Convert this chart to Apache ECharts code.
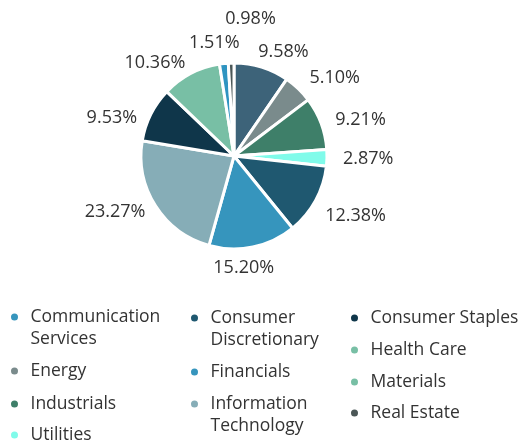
<!DOCTYPE html>
<html>
<head>
<meta charset="utf-8">
<script src="https://cdn.jsdelivr.net/npm/echarts@6/dist/echarts.min.js"></script>
<style>
  html, body { margin: 0; padding: 0; background: #fff; }
  #chart { width: 529px; height: 446px; }
</style>
</head>
<body>
<div id="chart"></div>
<script>
var sectors = ['Communication Services', 'Energy', 'Industrials', 'Utilities',
  'Consumer Discretionary', 'Financials', 'Information Technology',
  'Consumer Staples', 'Health Care', 'Materials', 'Real Estate'];
var weights = [9.58, 5.10, 9.21, 2.87, 12.38, 15.20, 23.27, 9.53, 10.36, 1.51, 0.98];
var sliceColors = ['#3d6379', '#7a8b8c', '#3e7f69', '#80fbea', '#1f5870', '#3695bd',
  '#86adb7', '#0f364a', '#78bfa5', '#2f94c1', '#4b5757'];
var legendColors = ['#3695bd', '#7a8b8c', '#3e7f69', '#80fbea', '#1f5870', '#3695bd',
  '#86adb7', '#0f364a', '#78bfa5', '#78bfa5', '#4b5757'];
var legendLabels = ['Communication\nServices', 'Energy', 'Industrials', 'Utilities',
  'Consumer\nDiscretionary', 'Financials', 'Information\nTechnology',
  'Consumer Staples', 'Health Care', 'Materials', 'Real Estate'];

// legend grid: left edge of each entry and the y of its dot
var legendLeft = [9, 9, 9, 9, 189, 189, 189, 349, 349, 349, 349];
var legendDotY = [317, 371, 404, 435, 318, 372, 404, 318, 350, 382, 413];
// small nudges of the outside labels, [dx, dy]
var labelShift = [[-12, -4], [-2, -2], [-2, 1], [-1, 1], [-6, 10], [-47, 9],
  [5, 0], [2, 9], [5, 0], [22, -9], [50, -32]];

var font = 'Open Sans';
var myChart = echarts.init(document.getElementById('chart'));

var legends = sectors.map(function (name, i) {
  var twoLine = legendLabels[i].indexOf('\n') > -1;
  // a leading empty line keeps the first line level with the dot
  var text = twoLine ? '\n' + legendLabels[i] : legendLabels[i];
  return {
    left: legendLeft[i],
    top: legendDotY[i] - (twoLine ? 33 : 11),
    padding: 0,
    icon: 'circle',
    itemWidth: 22,
    itemHeight: 9,
    selectedMode: false,
    formatter: function () { return text; },
    textStyle: {
      fontFamily: font,
      fontSize: 17.5,
      color: '#333',
      lineHeight: 22
    },
    data: [{ name: name, itemStyle: { color: legendColors[i] } }]
  };
});

var option = {
  animation: false,
  legend: legends,
  series: [
    {
      type: 'pie',
      center: [234, 156],
      radius: [0, 93],
      startAngle: 90,
      clockwise: true,
      avoidLabelOverlap: false,
      itemStyle: { borderColor: '#fff', borderWidth: 3 },
      label: {
        show: true,
        position: 'outside',
        fontFamily: font,
        fontSize: 18,
        color: '#333',
        formatter: function (p) { return p.value.toFixed(2) + '%'; }
      },
      labelLine: { show: false, length: 12, length2: 0 },
      labelLayout: function (p) {
        var s = labelShift[p.dataIndex];
        return { dx: s[0], dy: s[1] };
      },
      emphasis: { disabled: true },
      data: sectors.map(function (name, i) {
        return { name: name, value: weights[i], itemStyle: { color: sliceColors[i] } };
      })
    }
  ]
};
myChart.setOption(option);
</script>
</body>
</html>
